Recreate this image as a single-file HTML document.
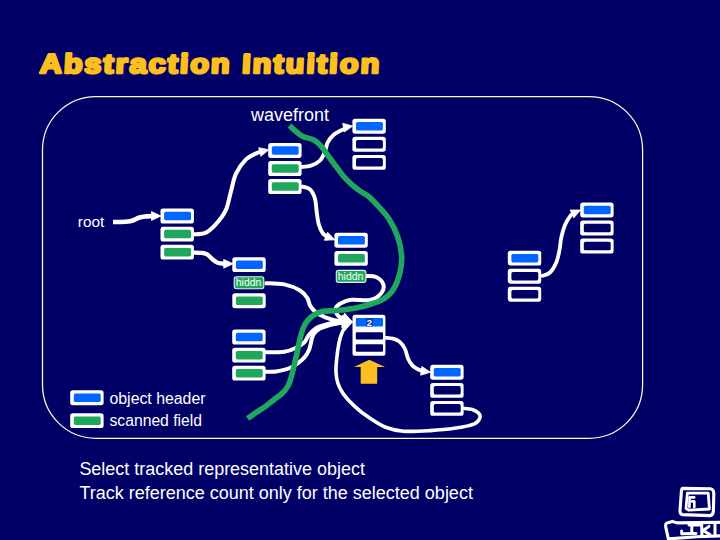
<!DOCTYPE html>
<html>
<head>
<meta charset="utf-8">
<title>Abstraction Intuition</title>
<style>
html,body{margin:0;padding:0;}
body{width:720px;height:540px;background:#000066;overflow:hidden;position:relative;font-family:"Liberation Sans",sans-serif;}
svg{position:absolute;left:0;top:0;}
text{font-family:"Liberation Sans",sans-serif;}
.t{fill:#fff;}
.ar{fill:none;stroke:#fff;stroke-linecap:butt;stroke-linejoin:round;}
.ah{fill:#fff;stroke:#fff;stroke-width:0.8;stroke-linejoin:round;}
</style>
</head>
<body>
<svg width="720" height="540" viewBox="0 0 720 540">
<g font-size="27" font-weight="bold" fill="#fcbf1e" stroke="#fcbf1e" stroke-width="2.7" stroke-linejoin="round" letter-spacing="1.45">
<text id="t1" transform="translate(39.4,72.7) skewX(-3) scale(1.13,1)" x="0" y="0" letter-spacing="1.8">Abstraction</text>
<text id="t2" transform="translate(241.8,72.7) skewX(-3) scale(1.13,1)" x="0" y="0" letter-spacing="1.85">Intuition</text>
</g>
<rect x="42.5" y="96.5" width="600.1" height="341.8" rx="53.5" ry="53.5" fill="none" stroke="#fbfbe0" stroke-width="1.25"/>
<text class="t" id="wf" x="251" y="120.5" font-size="17.5" textLength="78" lengthAdjust="spacingAndGlyphs">wavefront</text>
<text class="t" id="root" x="77.8" y="227" font-size="15.5" textLength="26.5" lengthAdjust="spacingAndGlyphs">root</text>
<text class="t" id="oh" x="109.5" y="403.5" font-size="16" textLength="96" lengthAdjust="spacingAndGlyphs">object header</text>
<text class="t" id="sf" x="109.5" y="425.5" font-size="16" textLength="92.5" lengthAdjust="spacingAndGlyphs">scanned field</text>
<text class="t" id="l1" x="79.4" y="475" font-size="18" textLength="285.5" lengthAdjust="spacingAndGlyphs">Select tracked representative object</text>
<text class="t" id="l2" x="79.4" y="499" font-size="18" textLength="393.5" lengthAdjust="spacingAndGlyphs">Track reference count only for the selected object</text>

<g id="arrows">
<path class="ar" stroke-width="4.6" d="M113.0,222.0 C115.0,222.0 122.0,222.0 125.0,221.8 C128.0,221.6 129.3,221.4 131.0,221.0 C132.7,220.6 133.6,220.2 135.0,219.6 C136.4,219.0 137.7,218.0 139.5,217.5 C141.3,217.0 143.8,216.7 146.0,216.4 C148.2,216.2 151.8,216.1 153.0,216.0"/>
<polygon class="ah" points="161.0,216.0 151.5,220.4 151.5,211.6"/>
<path class="ar" stroke-width="4.1" d="M193.0,234.4 C195.1,234.1 201.7,234.4 205.4,232.8 C209.2,231.2 212.1,228.3 215.5,224.6 C218.9,220.9 223.1,215.8 225.7,210.4 C228.2,205.0 229.1,198.1 230.8,192.0 C232.5,185.9 233.5,179.1 236.0,173.7 C238.5,168.3 242.6,162.8 246.0,159.4 C249.4,156.0 253.6,154.6 256.3,153.3 C259.0,152.0 261.1,151.9 262.0,151.6"/>
<polygon class="ah" points="269.0,149.7 260.8,156.3 258.7,147.7"/>
<path class="ar" stroke-width="4.3" d="M193.0,252.5 C194.2,252.6 197.7,252.5 200.0,252.8 C202.3,253.1 204.5,253.0 206.7,254.2 C208.9,255.4 211.4,258.5 213.3,260.0 C215.2,261.5 216.4,262.4 218.3,263.0 C220.2,263.6 223.9,263.7 225.0,263.8"/>
<polygon class="ah" points="233.2,263.8 223.7,268.2 223.7,259.4"/>
<path class="ar" stroke-width="3.9" d="M301.0,167.0 C302.7,166.8 307.8,166.8 311.0,165.7 C314.2,164.6 317.7,162.9 320.0,160.5 C322.3,158.1 323.7,154.5 325.0,151.5 C326.3,148.5 326.2,145.2 327.7,142.4 C329.2,139.6 331.4,136.8 334.0,134.6 C336.6,132.4 341.3,130.4 343.3,129.4 C345.3,128.4 345.6,128.7 346.0,128.5"/>
<polygon class="ah" points="352.8,126.0 344.2,132.0 342.7,123.3"/>
<path class="ar" stroke-width="3.9" d="M301.0,186.4 C302.4,186.8 307.3,187.1 309.6,189.0 C311.9,190.9 313.6,194.3 314.8,198.0 C316.0,201.7 316.0,206.7 316.6,211.0 C317.2,215.3 317.7,220.3 318.7,224.0 C319.7,227.7 321.1,230.8 322.6,233.0 C324.2,235.2 327.1,236.5 328.0,237.2"/>
<polygon class="ah" points="334.8,239.8 324.3,240.3 327.6,232.2"/>
<path class="ar" stroke-width="3.8" d="M385.0,337.6 C386.3,337.8 390.6,337.9 393.0,338.6 C395.4,339.3 397.5,339.9 399.5,341.6 C401.5,343.3 403.6,346.2 405.0,349.0 C406.4,351.8 406.8,355.7 408.0,358.5 C409.2,361.3 410.7,363.7 412.5,365.6 C414.3,367.5 417.2,368.9 419.0,369.8 C420.8,370.7 422.8,370.8 423.5,371.0"/>
<polygon class="ah" points="430.6,372.2 420.6,375.2 421.8,366.5"/>
<path class="ar" stroke-width="3.8" d="M541.0,276.3 C542.5,275.7 547.5,274.8 550.0,272.5 C552.5,270.2 554.7,266.2 556.3,262.5 C557.9,258.8 558.7,254.2 559.5,250.0 C560.3,245.8 560.4,241.7 561.3,237.5 C562.2,233.3 563.5,228.5 565.0,225.0 C566.5,221.5 568.6,218.2 570.0,216.3 C571.4,214.4 572.9,214.0 573.5,213.5"/>
<polygon class="ah" points="580.6,210.0 573.8,218.0 570.1,210.0"/>
<path class="ar" stroke-width="4.0" d="M264.7,283.2 C267.9,283.4 278.4,283.2 284.2,284.4 C290.0,285.6 295.8,288.0 299.7,290.3 C303.6,292.6 305.6,295.4 307.3,298.0 C309.1,300.6 308.7,303.4 310.2,305.9 C311.7,308.3 313.8,310.8 316.3,312.7 C318.8,314.6 322.4,316.1 325.4,317.4 C328.4,318.6 331.4,319.5 334.5,320.2 C337.6,320.9 342.4,321.3 344.0,321.5"/>
<path class="ar" stroke-width="4.0" d="M366.0,276.0 C367.7,276.2 373.1,275.6 376.0,277.0 C378.9,278.4 382.6,281.7 383.4,284.5 C384.2,287.3 382.8,291.4 380.6,294.0 C378.4,296.6 374.9,299.0 370.0,300.0 C365.1,301.0 356.1,299.2 351.3,299.8 C346.5,300.4 343.6,301.9 341.0,303.3 C338.4,304.7 336.5,306.1 335.8,308.0 C335.1,309.9 336.1,312.7 337.0,314.4 C337.9,316.1 339.7,317.1 341.0,318.0 C342.3,318.9 344.3,319.7 345.0,320.0"/>
<path class="ar" stroke-width="4.0" d="M265.0,352.2 C268.2,352.1 279.1,352.6 284.4,351.8 C289.6,351.0 293.2,349.2 296.5,347.6 C299.8,346.0 302.4,344.3 304.3,342.4 C306.2,340.5 306.9,337.8 308.2,336.0 C309.5,334.2 310.3,332.9 312.0,331.4 C313.7,329.9 315.7,328.2 318.5,326.9 C321.3,325.6 325.1,324.5 329.0,323.6 C332.9,322.7 339.2,322.1 341.9,321.7 C344.6,321.3 344.5,321.5 345.0,321.5"/>
<path class="ar" stroke-width="4.0" d="M265.0,371.8 C266.8,371.7 272.7,371.8 276.0,371.4 C279.3,371.0 282.2,370.4 285.0,369.6 C287.8,368.8 290.8,367.6 293.0,366.5 C295.2,365.4 296.0,364.9 298.0,363.3 C300.0,361.7 303.2,358.9 305.0,356.7 C306.8,354.5 308.0,352.2 309.0,350.0 C310.0,347.8 310.3,345.5 310.8,343.5 C311.3,341.5 311.4,339.8 312.0,338.0 C312.6,336.2 313.2,334.6 314.5,333.0 C315.8,331.4 317.4,329.8 320.0,328.5 C322.6,327.2 326.2,326.0 330.0,325.0 C333.8,324.0 340.8,322.9 343.0,322.5"/>
<path class="ar" stroke-width="3.6" d="M462.5,408.3 C464.1,408.5 469.6,408.6 472.2,409.4 C474.8,410.1 476.9,411.5 478.2,412.8 C479.5,414.1 480.6,415.5 480.0,417.4 C479.4,419.2 478.7,422.1 474.4,423.9 C470.1,425.7 461.8,427.2 454.4,428.3 C447.0,429.4 438.5,430.1 430.0,430.6 C421.5,431.1 410.7,431.8 403.3,431.2 C395.9,430.6 391.2,429.3 385.6,427.2 C380.1,425.1 375.2,421.8 370.0,418.3 C364.8,414.8 358.8,410.2 354.4,406.1 C349.9,402.0 346.1,397.8 343.3,393.9 C340.5,390.0 339.0,386.6 337.8,383.0 C336.6,379.4 336.2,376.2 336.0,372.2 C335.8,368.2 336.2,363.7 336.7,358.9 C337.2,354.1 338.0,347.8 338.9,343.3 C339.8,338.9 341.0,335.0 342.2,332.2 C343.4,329.4 345.4,327.4 346.0,326.5"/>
<polygon class="ah" points="353.0,322.0 341.8,328.1 342.2,315.1"/>
<polygon class="ah" points="352.0,321.5 340.9,322.4 344.6,313.1"/>
<polygon class="ah" points="352.0,322.5 344.6,330.9 340.9,321.6"/>
</g>

<path id="wave" d="M289.5,125.5 C290.5,126.4 293.1,129.2 295.4,131.0 C297.6,132.8 300.0,135.1 303.0,136.6 C306.0,138.1 310.4,138.2 313.5,139.8 C316.6,141.4 318.9,143.7 321.3,146.3 C323.7,148.9 325.3,152.1 327.7,155.3 C330.1,158.5 332.9,162.2 335.5,165.7 C338.1,169.1 340.7,173.0 343.3,176.0 C345.9,179.0 348.2,181.3 351.0,183.8 C353.8,186.3 357.0,188.9 360.0,191.0 C363.0,193.1 365.6,193.9 368.8,196.6 C372.0,199.3 375.6,203.2 379.0,207.0 C382.4,210.8 386.2,214.6 389.3,219.5 C392.4,224.4 395.6,230.5 397.6,236.5 C399.7,242.5 401.2,249.7 401.6,255.5 C402.0,261.3 401.5,265.9 400.2,271.5 C398.9,277.1 396.6,284.3 393.6,289.0 C390.7,293.7 387.4,296.8 382.5,299.6 C377.6,302.4 369.4,304.5 364.4,306.0 C359.4,307.5 357.2,307.8 352.6,308.5 C348.0,309.2 342.0,310.0 337.0,310.5 C332.0,311.0 326.5,310.7 322.8,311.3 C319.1,311.9 317.5,312.9 315.0,314.4 C312.5,315.9 309.8,317.9 307.9,320.2 C305.9,322.5 304.6,324.9 303.3,328.0 C302.0,331.1 301.1,334.5 300.0,338.9 C298.9,343.3 297.8,349.6 296.7,354.4 C295.6,359.2 294.6,363.9 293.6,367.8 C292.7,371.7 291.9,375.0 291.0,378.0 C290.1,381.0 289.4,383.5 288.0,386.0 C286.6,388.5 285.0,390.7 282.6,393.0 C280.2,395.3 276.4,397.7 273.5,400.0 C270.6,402.3 268.1,404.5 265.0,406.7 C261.9,408.9 257.9,411.3 255.0,413.3 C252.1,415.3 248.8,417.7 247.6,418.6" fill="none" stroke="#1fa85c" stroke-width="5.6" stroke-linecap="butt" stroke-linejoin="round"/>

<g id="boxes">
<rect x="160.5" y="208.6" width="33.4" height="14.9" rx="2.6" fill="#fff"/><rect x="164.1" y="211.8" width="26.9" height="8.5" rx="1.6" fill="#0066ff"/>
<rect x="160.5" y="226.7" width="33.4" height="14.9" rx="2.6" fill="#fff"/><rect x="164.1" y="229.8" width="26.9" height="8.5" rx="1.6" fill="#1fa85c"/>
<rect x="160.5" y="244.7" width="33.4" height="14.9" rx="2.6" fill="#fff"/><rect x="164.1" y="247.9" width="26.9" height="8.5" rx="1.6" fill="#1fa85c"/>
<rect x="268.2" y="143.0" width="33.4" height="14.9" rx="2.6" fill="#fff"/><rect x="271.8" y="146.2" width="26.9" height="8.5" rx="1.6" fill="#0066ff"/>
<rect x="268.2" y="161.1" width="33.4" height="14.9" rx="2.6" fill="#fff"/><rect x="271.8" y="164.2" width="26.9" height="8.5" rx="1.6" fill="#1fa85c"/>
<rect x="268.2" y="179.1" width="33.4" height="14.9" rx="2.6" fill="#fff"/><rect x="271.8" y="182.3" width="26.9" height="8.5" rx="1.6" fill="#1fa85c"/>
<rect x="352.4" y="118.8" width="33.4" height="14.9" rx="2.6" fill="#fff"/><rect x="356.0" y="122.0" width="26.9" height="8.5" rx="1.6" fill="#0066ff"/>
<rect x="352.4" y="136.8" width="33.4" height="14.9" rx="2.6" fill="#fff"/><rect x="356.0" y="140.0" width="26.9" height="8.5" rx="1.6" fill="#000066"/>
<rect x="352.4" y="154.9" width="33.4" height="14.9" rx="2.6" fill="#fff"/><rect x="356.0" y="158.1" width="26.9" height="8.5" rx="1.6" fill="#000066"/>
<rect x="232.3" y="257.2" width="33.4" height="14.9" rx="2.6" fill="#fff"/><rect x="235.9" y="260.4" width="26.9" height="8.5" rx="1.6" fill="#0066ff"/>
<rect x="234.2" y="276.8" width="29.6" height="12.0" rx="2.2" fill="#1fa85c" stroke="#e4f2e6" stroke-width="1.1"/>
<text x="235.7" y="285.9" font-size="10.4" fill="#fff" textLength="25.6" lengthAdjust="spacing">hiddn</text>
<rect x="232.3" y="293.3" width="33.4" height="14.9" rx="2.6" fill="#fff"/><rect x="235.9" y="296.5" width="26.9" height="8.5" rx="1.6" fill="#1fa85c"/>
<rect x="334.4" y="232.8" width="33.4" height="14.9" rx="2.6" fill="#fff"/><rect x="338.0" y="236.0" width="26.9" height="8.5" rx="1.6" fill="#0066ff"/>
<rect x="334.4" y="250.9" width="33.4" height="14.9" rx="2.6" fill="#fff"/><rect x="338.0" y="254.1" width="26.9" height="8.5" rx="1.6" fill="#1fa85c"/>
<rect x="336.3" y="270.4" width="29.6" height="12.0" rx="2.2" fill="#1fa85c" stroke="#e4f2e6" stroke-width="1.1"/>
<text x="337.8" y="279.6" font-size="10.4" fill="#fff" textLength="25.6" lengthAdjust="spacing">hiddn</text>
<rect x="232.2" y="329.6" width="33.4" height="14.9" rx="2.6" fill="#fff"/><rect x="235.8" y="332.8" width="26.9" height="8.5" rx="1.6" fill="#0066ff"/>
<rect x="232.2" y="347.7" width="33.4" height="14.9" rx="2.6" fill="#fff"/><rect x="235.8" y="350.9" width="26.9" height="8.5" rx="1.6" fill="#1fa85c"/>
<rect x="232.2" y="365.7" width="33.4" height="14.9" rx="2.6" fill="#fff"/><rect x="235.8" y="368.9" width="26.9" height="8.5" rx="1.6" fill="#1fa85c"/>
<rect x="430.2" y="364.8" width="33.4" height="14.9" rx="2.6" fill="#fff"/><rect x="433.8" y="368.0" width="26.9" height="8.5" rx="1.6" fill="#0066ff"/>
<rect x="430.2" y="382.9" width="33.4" height="14.9" rx="2.6" fill="#fff"/><rect x="433.8" y="386.1" width="26.9" height="8.5" rx="1.6" fill="#000066"/>
<rect x="430.2" y="400.9" width="33.4" height="14.9" rx="2.6" fill="#fff"/><rect x="433.8" y="404.1" width="26.9" height="8.5" rx="1.6" fill="#000066"/>
<rect x="507.8" y="250.7" width="33.4" height="14.9" rx="2.6" fill="#fff"/><rect x="511.4" y="253.9" width="26.9" height="8.5" rx="1.6" fill="#0066ff"/>
<rect x="507.8" y="268.8" width="33.4" height="14.9" rx="2.6" fill="#fff"/><rect x="511.4" y="271.9" width="26.9" height="8.5" rx="1.6" fill="#000066"/>
<rect x="507.8" y="286.8" width="33.4" height="14.9" rx="2.6" fill="#fff"/><rect x="511.4" y="290.0" width="26.9" height="8.5" rx="1.6" fill="#000066"/>
<rect x="580.2" y="202.5" width="33.4" height="14.9" rx="2.6" fill="#fff"/><rect x="583.8" y="205.7" width="26.9" height="8.5" rx="1.6" fill="#0066ff"/>
<rect x="580.2" y="220.6" width="33.4" height="14.9" rx="2.6" fill="#fff"/><rect x="583.8" y="223.8" width="26.9" height="8.5" rx="1.6" fill="#000066"/>
<rect x="580.2" y="238.6" width="33.4" height="14.9" rx="2.6" fill="#fff"/><rect x="583.8" y="241.8" width="26.9" height="8.5" rx="1.6" fill="#000066"/>
<rect x="70.2" y="390.3" width="33.4" height="14.9" rx="2.6" fill="#fff"/><rect x="73.8" y="393.5" width="26.9" height="8.5" rx="1.6" fill="#0066ff"/>
<rect x="70.2" y="413.2" width="33.4" height="14.9" rx="2.6" fill="#fff"/><rect x="73.8" y="416.4" width="26.9" height="8.5" rx="1.6" fill="#1fa85c"/>
<!-- the "2" object -->
<rect x="352.5" y="314.8" width="32.9" height="41" rx="2.6" fill="#fff"/>
<rect x="355.8" y="318" width="27.2" height="8.4" rx="1" fill="#0066ff"/>
<rect x="355.8" y="332.2" width="27.2" height="7.4" rx="1" fill="#000066"/>
<rect x="355.8" y="344.2" width="27.2" height="7.6" rx="1" fill="#000066"/>
<rect x="366" y="318" width="7" height="8.4" fill="#0a3fb8"/>
<text x="369.4" y="326.2" font-size="9.4" font-weight="bold" fill="#fff" text-anchor="middle">2</text>
<!-- yellow arrow -->
<polygon points="369.3,359.8 385,366.9 377.2,366.9 377.2,383.8 360.7,383.8 360.7,366.9 354,366.9" fill="#fcbf1e"/>
</g>

<!-- computer icon -->
<g fill="none" stroke="#fff" stroke-width="3.1" stroke-linejoin="round" stroke-linecap="round">
<path d="M683,488.4 L710.4,488.8 Q713.8,489.4 713.8,494 L713.4,511 Q713,515.4 710,515.6 L682.2,514.6 Q680,514 680,510.4 L681.4,491.4 Q681.6,488.4 683,488.4 Z"/>
<path stroke-width="2.8" d="M687.4,493.2 L708.2,493.2 L709.4,509 L688.6,510.2 L686,508.4 Z"/>
<path stroke-width="2.6" d="M689.4,507 L689.6,497.4 L694.2,497.4 M692,501.4 L694.3,501.4 L694.3,507"/>
<path d="M668.6,540 L665.6,526.4 Q665.2,522.9 668,522.7 L672.4,521.4 L677,522.9 L720,522.4"/>
<path d="M668.8,538.9 L696.7,536.8 L720,535.9"/>
<path stroke-width="3" d="M681.6,531 L681.8,533.8 L696,533.4 M691.8,525.4 L691.8,532.6 M689,525 L701,524.9 M701.7,524.8 L701.9,535.4 M703.4,530.4 L709,526.4 M703.4,530.6 L710,534.6 M715,524.4 L715,535"/>
</g>
</svg>
</body>
</html>
